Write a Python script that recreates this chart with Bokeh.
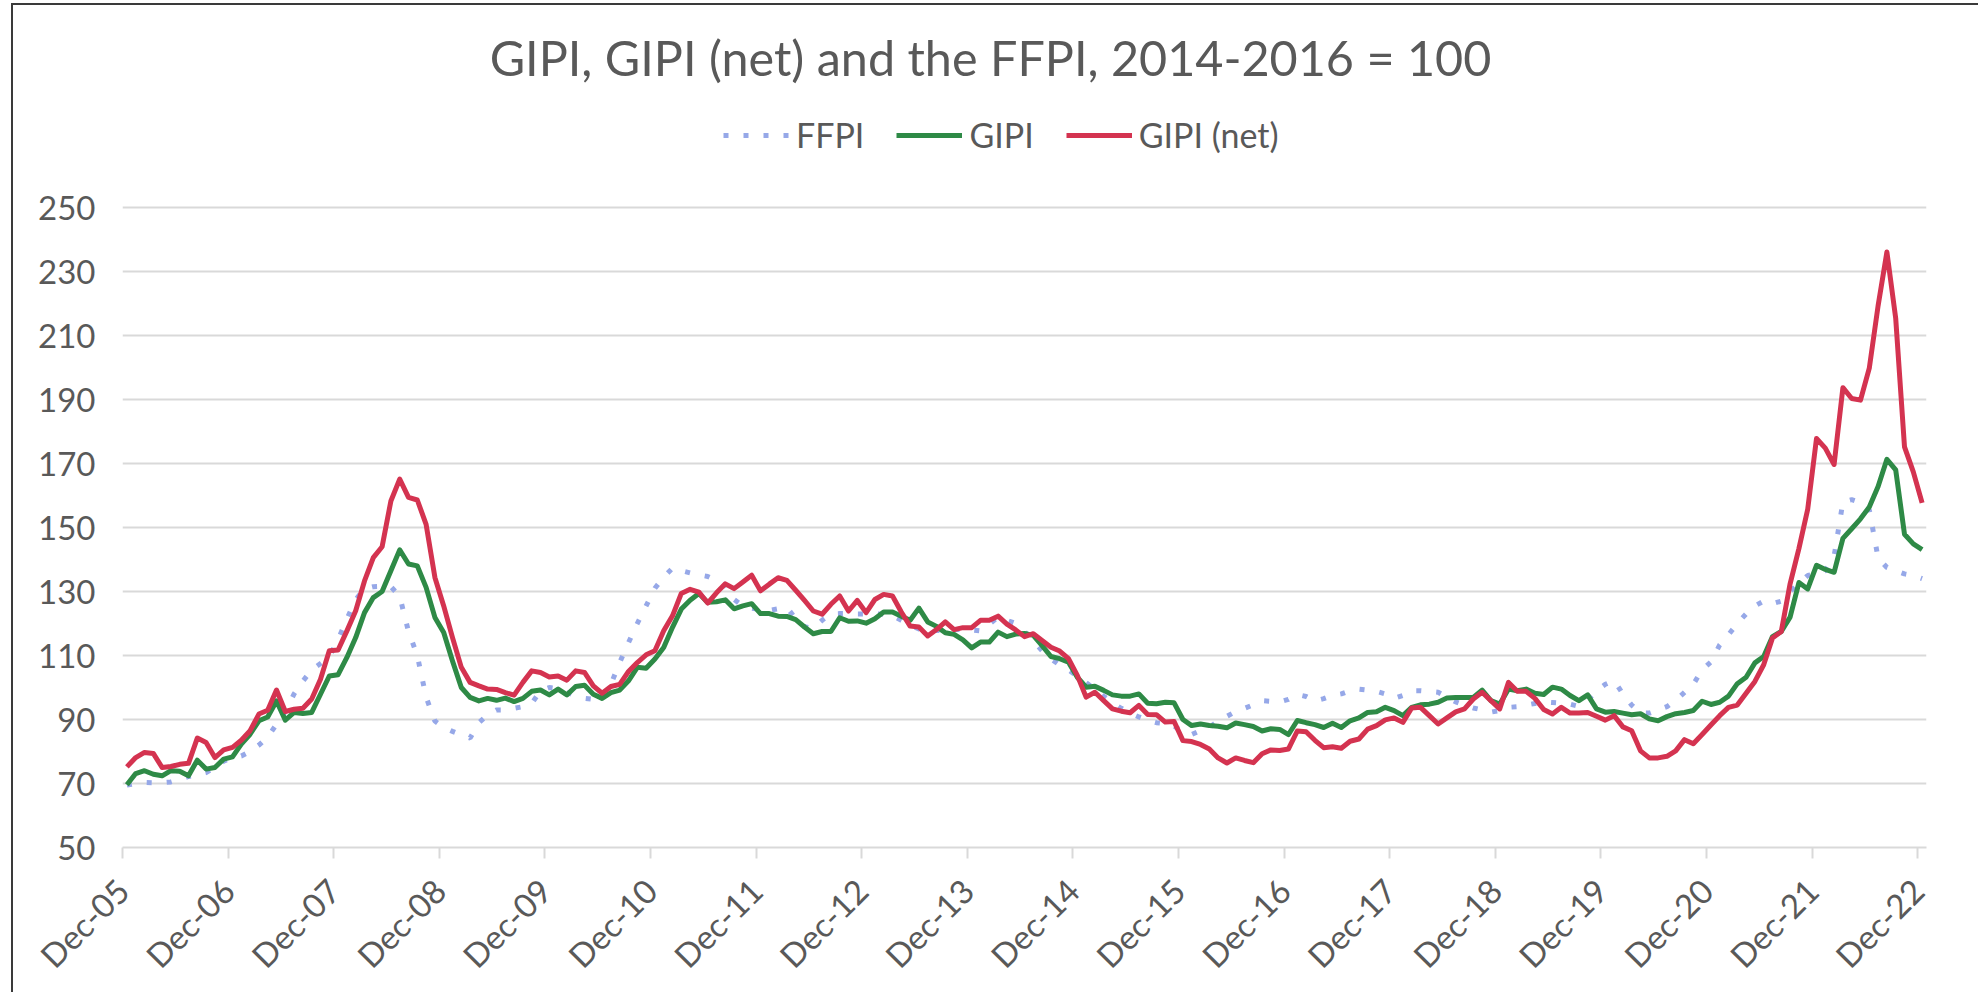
import math
from bokeh.plotting import figure
from bokeh.models import Label, Legend, LegendItem, FixedTicker, Range1d
from bokeh.embed import file_html
from bokeh.resources import INLINE

title_text = "GIPI, GIPI (net) and the FFPI, 2014-2016 = 100"
tick_labels = ["Dec-05", "Dec-06", "Dec-07", "Dec-08", "Dec-09", "Dec-10", "Dec-11",
               "Dec-12", "Dec-13", "Dec-14", "Dec-15", "Dec-16", "Dec-17", "Dec-18",
               "Dec-19", "Dec-20", "Dec-21", "Dec-22"]
y_ticks = [50, 70, 90, 110, 130, 150, 170, 190, 210, 230, 250]

# monthly values, Dec-05 .. Dec-22
ffpi = [
    69.5, 70.0, 70.3, 70.2, 70.3, 70.5, 71.3, 72.2, 72.8, 73.4, 75.0, 77.0,
    78.0, 78.6, 80.0, 82.0, 84.5, 88.5, 92.5, 98.0, 102.0, 105.5, 107.5, 109.5,
    115.0, 121.4, 127.5, 130.8, 131.5, 131.6, 131.5, 128.5, 117.5, 110.0, 97.0, 89.5,
    87.5, 86.3, 85.2, 84.2, 89.0, 91.5, 93.0, 93.0, 93.5, 94.0, 95.0, 99.0,
    100.0, 99.6, 98.5, 97.3, 96.6, 96.3, 96.1, 101.0, 107.8, 114.0, 120.0, 125.5,
    131.0, 134.5, 137.3, 136.5, 135.8, 135.2, 134.7, 133.5, 132.0, 127.5, 125.5, 124.8,
    124.3, 124.1, 124.6, 125.0, 121.5, 119.0, 118.5, 121.0, 123.0, 123.1, 123.1, 123.0,
    123.0, 123.0, 122.9, 122.5, 121.0, 119.5, 118.3, 117.8, 117.8, 117.8, 118.0, 118.3,
    118.0, 117.7, 119.8, 122.0, 121.0, 120.0, 117.5, 114.5, 111.5, 109.0, 107.0, 105.5,
    103.5, 101.5, 99.5, 97.3, 95.2, 93.5, 92.0, 90.8, 89.7, 89.0, 88.7, 88.0,
    86.0, 85.3, 86.5, 87.5, 89.5, 91.0, 92.5, 93.5, 94.6, 95.9, 95.7, 95.5,
    96.3, 97.8, 97.2, 95.8, 96.5, 97.5, 98.0, 99.0, 99.5, 99.2, 98.8, 98.0,
    96.6, 97.5, 99.0, 99.0, 98.8, 98.5, 97.0, 95.5, 94.5, 93.6, 93.0, 92.3,
    92.8, 93.8, 94.0, 94.5, 95.0, 95.5, 95.3, 95.1, 94.8, 94.1, 96.0, 99.0,
    101.0, 102.2, 98.0, 94.5, 92.0, 92.0, 93.0, 94.0, 96.0, 98.5, 101.0, 105.5,
    108.0, 113.3, 116.5, 120.0, 123.0, 125.5, 127.0, 126.2, 127.0, 130.0, 132.5, 135.0,
    135.5, 136.5, 141.0, 158.0, 158.7, 157.8, 155.5, 140.5, 137.5, 136.5, 135.5, 135.0,
    134.0,
]
gipi = [
    69.6, 73.1, 74.0, 72.9, 72.4, 74.0, 73.8, 72.4, 77.3, 74.5, 75.0, 77.6,
    78.3, 82.3, 85.4, 89.6, 90.8, 95.8, 89.8, 92.2, 91.9, 92.2, 97.9, 103.6,
    104.0, 109.4, 115.6, 123.4, 128.1, 130.0, 136.5, 143.0, 138.6, 138.0, 131.3, 121.9,
    117.2, 108.3, 100.0, 96.9, 95.8, 96.6, 96.0, 96.7, 95.6, 96.6, 98.8, 99.2,
    97.7, 99.5, 97.7, 100.3, 100.7, 97.9, 96.6, 98.4, 99.2, 102.1, 106.3, 106.0,
    108.9, 112.5, 118.8, 124.5, 127.3, 129.4, 126.6, 126.8, 127.4, 124.6, 125.5, 126.2,
    123.1, 123.1, 122.3, 122.2, 121.2, 118.9, 116.8, 117.5, 117.5, 121.8, 120.7, 120.8,
    120.1, 121.5, 123.6, 123.6, 122.3, 121.0, 124.8, 120.5, 119.1, 117.1, 116.6, 114.9,
    112.4, 114.2, 114.2, 117.3, 115.9, 116.7, 116.9, 116.3, 113.1, 109.7, 109.0, 107.9,
    103.2, 100.1, 100.4, 99.1, 97.7, 97.3, 97.3, 98.0, 95.1, 94.9, 95.4, 95.2,
    90.0, 88.1, 88.6, 88.1, 87.9, 87.4, 88.9, 88.4, 87.8, 86.4, 87.1, 86.9,
    85.3, 89.7, 89.0, 88.4, 87.5, 88.8, 87.5, 89.6, 90.5, 92.2, 92.4, 93.8,
    92.8, 91.2, 93.8, 94.6, 94.8, 95.4, 96.7, 96.9, 96.9, 96.9, 99.2, 95.9,
    94.8, 99.5, 99.0, 99.5, 98.2, 97.8, 100.1, 99.5, 97.5, 95.9, 97.7, 93.3,
    92.3, 92.5, 92.0, 91.5, 91.8, 90.2, 89.6, 90.9, 91.8, 92.2, 92.8, 95.7,
    94.7, 95.4, 97.3, 101.2, 103.2, 107.7, 109.7, 115.9, 117.5, 122.0, 132.8, 130.8,
    138.2, 136.9, 136.0, 146.6, 149.6, 152.7, 156.4, 162.8, 171.3, 168.0, 147.9, 144.9,
    143.1,
]
gipi_net = [
    75.2, 78.1, 79.7, 79.4, 75.0, 75.3, 76.0, 76.3, 84.2, 82.8, 78.1, 80.5,
    81.3, 83.5, 86.5, 91.7, 92.9, 99.2, 92.5, 93.2, 93.5, 96.4, 102.6, 111.5,
    111.7, 117.7, 124.0, 133.3, 140.6, 144.0, 158.3, 165.1, 159.4, 158.6, 151.0, 134.4,
    125.5, 115.6, 106.3, 101.6, 100.5, 99.5, 99.4, 98.4, 97.6, 101.6, 105.2, 104.7,
    103.3, 103.6, 102.3, 105.2, 104.7, 100.5, 98.2, 100.3, 101.0, 105.0, 107.8, 110.2,
    111.5, 117.7, 122.4, 129.4, 130.7, 129.8, 126.4, 129.6, 132.4, 130.9, 133.0, 135.1,
    130.2, 132.3, 134.3, 133.5, 130.4, 127.2, 123.9, 122.9, 126.0, 128.6, 123.9, 127.2,
    123.4, 127.5, 129.1, 128.6, 123.6, 119.2, 118.9, 116.1, 118.1, 120.5, 118.1, 118.7,
    118.7, 121.0, 121.0, 122.3, 119.8, 118.0, 115.9, 116.8, 114.7, 112.6, 111.4, 109.0,
    103.8, 97.0, 98.5, 95.9, 93.3, 92.6, 92.1, 94.4, 91.6, 91.5, 89.2, 89.4,
    83.4, 83.1, 82.2, 80.8, 78.0, 76.4, 78.0, 77.2, 76.5, 79.3, 80.5, 80.3,
    80.8, 86.4, 86.2, 83.5, 81.2, 81.5, 81.0, 83.2, 83.9, 87.0, 88.1, 89.9,
    90.5, 89.1, 93.6, 93.8, 91.2, 88.6, 90.5, 92.4, 93.3, 96.4, 98.5, 95.9,
    93.3, 101.6, 98.8, 98.8, 96.6, 93.1, 91.7, 93.8, 92.0, 92.0, 92.2, 91.0,
    89.8, 91.2, 87.7, 86.5, 80.2, 78.0, 78.0, 78.5, 80.2, 83.7, 82.4, 85.3,
    88.3, 91.2, 93.8, 94.5, 98.2, 101.9, 107.1, 115.5, 117.5, 132.4, 143.4, 155.7,
    177.8, 174.8, 169.7, 193.7, 190.3, 189.8, 199.8, 219.3, 236.1, 215.4, 175.2, 167.4,
    157.7,
]

BLUE = "#96A8E8"
GREEN = "#2E8A46"
RED = "#D43350"
TEXT = "#595959"
GRID = "#D9D9D9"
FONT = "Lato"

n = len(ffpi)
xs = [i + 0.5 for i in range(n)]          # each month sits in the middle of its slot
tick_pos = [12 * k for k in range(len(tick_labels))]

# the frame reaches to the top of the canvas so that title and legend sit inside it
FRAME_H = 842
PX_PER_UNIT = 3.2
y_top = y_ticks[0] + FRAME_H / PX_PER_UNIT

p = figure(title=None, frame_width=1804, frame_height=FRAME_H,
           x_range=Range1d(0, n), y_range=Range1d(y_ticks[0], y_top),
           output_backend="svg", toolbar_location=None,
           min_border_left=109, min_border_right=52, min_border_top=0, min_border_bottom=143)
p.outline_line_color = None
p.background_fill_color = "white"
p.border_fill_color = "white"
p.styles = {"border-left": "2px solid #3a3a3a", "border-top": "2px solid #3a3a3a",
            "margin-left": "11px", "margin-top": "3px"}

r_f = p.line(xs, ffpi, line_color=BLUE, line_width=5, line_dash="5 15", line_cap="butt")
r_g = p.line(xs, gipi, line_color=GREEN, line_width=5, line_join="round")
r_r = p.line(xs, gipi_net, line_color=RED, line_width=5, line_join="round")

# x axis
xa = p.xaxis[0]
xa.ticker = FixedTicker(ticks=tick_pos)
xa.major_label_overrides = {t: lab for t, lab in zip(tick_pos, tick_labels)}
xa.major_label_orientation = math.pi / 4
xa.axis_line_color = GRID
xa.axis_line_width = 2
xa.major_tick_line_color = GRID
xa.major_tick_line_width = 2
xa.major_tick_out = 11
xa.major_tick_in = 0
xa.minor_tick_line_color = None
xa.major_label_text_font = FONT
xa.major_label_text_font_size = "33px"
xa.major_label_text_color = TEXT
xa.major_label_standoff = 26

# y axis
ya = p.yaxis[0]
ya.ticker = FixedTicker(ticks=y_ticks)
ya.axis_line_color = None
ya.major_tick_line_color = None
ya.minor_tick_line_color = None
ya.major_tick_out = 0
ya.major_tick_in = 0
ya.major_label_text_font = FONT
ya.major_label_text_font_size = "33px"
ya.major_label_text_color = TEXT
ya.major_label_standoff = 27

p.xgrid.grid_line_color = None
p.ygrid.ticker = FixedTicker(ticks=y_ticks)
p.ygrid.grid_line_color = GRID
p.ygrid.grid_line_width = 2

legend = Legend(items=[LegendItem(label="FFPI", renderers=[r_f]),
                       LegendItem(label="GIPI", renderers=[r_g]),
                       LegendItem(label="GIPI (net)", renderers=[r_r])],
                orientation="horizontal", location=(601, 692),
                glyph_width=66, glyph_height=38, label_height=38, label_standoff=7,
                spacing=32, padding=0, margin=0,
                border_line_color=None, background_fill_alpha=0,
                label_text_font=FONT, label_text_font_size="34px", label_text_color=TEXT)
p.add_layout(legend)

p.add_layout(Label(x=868, y=791, x_units="screen", y_units="screen", text=title_text,
                   text_align="center", text_baseline="alphabetic",
                   text_font=FONT, text_font_size="48.5px", text_color=TEXT))

open("out.html", "w").write(file_html(p, INLINE))
